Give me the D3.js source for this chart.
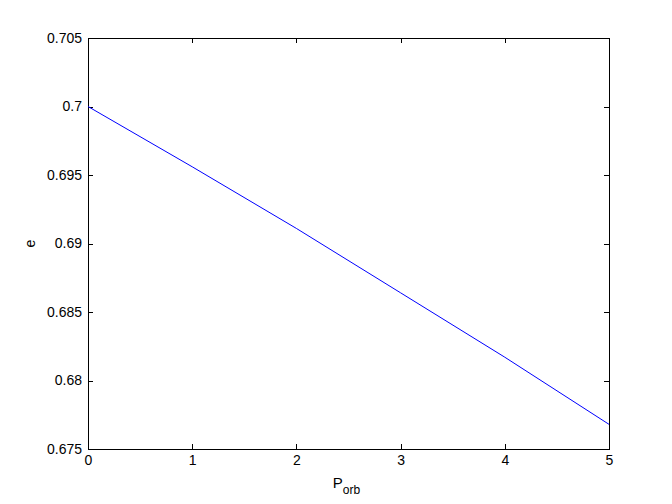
<!DOCTYPE html>
<html>
<head>
<meta charset="utf-8">
<script src="https://cdn.jsdelivr.net/npm/d3@7"></script>
<style>
  body { margin: 0; background: #fff; }
  .chart { width: 672px; height: 504px; }
  text { font-family: "Liberation Sans", Arial, sans-serif; }
</style>
</head>
<body>
<div class="chart"></div>
<script>
// data
let porb = [0, 1, 2, 3, 4, 5];
let ecc = [0.7, 0.6956, 0.6911, 0.6864, 0.6817, 0.6768];
let xTicks = [0, 1, 2, 3, 4, 5];
let yTicks = [0.675, 0.68, 0.685, 0.69, 0.695, 0.7, 0.705];

let chart = {};

chart.margin = { top: 38, right: 63, bottom: 55, left: 88 };
chart.width = 672 - chart.margin.left - chart.margin.right;
chart.height = 504 - chart.margin.top - chart.margin.bottom;

chart.x = d3.scaleLinear().domain([0, 5]).range([0, chart.width]);
chart.y = d3.scaleLinear().domain([0.675, 0.705]).range([chart.height, 0]);

chart.svg = d3.select(".chart").append("svg")
    .attr("width", 672)
    .attr("height", 504);

chart.plot = chart.svg.append("g")
    .attr("transform", `translate(${chart.margin.left},${chart.margin.top})`);

//ticks point inward, MATLAB style, on all four sides
let fmtY = d => String(+d.toFixed(3));

let axisStyle = g => {
    g.select(".domain").remove();
    g.selectAll("line").attr("stroke", "#000").attr("shape-rendering", "crispEdges");
    g.selectAll("text").attr("font-size", 14).attr("fill", "#000");
};

chart.plot.append("g")
    .attr("transform", `translate(0,${chart.height})`)
    .call(d3.axisBottom(chart.x).tickValues(xTicks).tickSizeInner(-5).tickPadding(6).tickFormat(d3.format("d")))
    .call(axisStyle);

chart.plot.append("g")
    .call(d3.axisTop(chart.x).tickValues(xTicks).tickSizeInner(-5).tickFormat(""))
    .call(axisStyle);

chart.plot.append("g")
    .call(d3.axisLeft(chart.y).tickValues(yTicks).tickSizeInner(-5).tickPadding(6).tickFormat(fmtY))
    .call(axisStyle);

chart.plot.append("g")
    .attr("transform", `translate(${chart.width},0)`)
    .call(d3.axisRight(chart.y).tickValues(yTicks).tickSizeInner(-5).tickFormat(""))
    .call(axisStyle);

//the box
chart.plot.append("rect")
    .attr("x", 0).attr("y", 0)
    .attr("width", chart.width).attr("height", chart.height)
    .attr("fill", "none").attr("stroke", "#000")
    .attr("shape-rendering", "crispEdges");

let line = d3.line()
    .x((d, i) => chart.x(porb[i]))
    .y(d => chart.y(d));

chart.plot.append("path")
    .datum(ecc)
    .attr("d", line)
    .attr("fill", "none")
    .attr("stroke", "#0000ff")
    .attr("stroke-width", 1);

//labels
let xl = chart.svg.append("text")
    .attr("x", chart.margin.left + chart.width / 2 - 2)
    .attr("y", 488)
    .attr("text-anchor", "middle")
    .attr("font-size", 15);
xl.append("tspan").text("P");
xl.append("tspan").attr("dy", 6).attr("font-size", 12).text("orb");

chart.svg.append("text")
    .attr("transform", `translate(35,${chart.margin.top + chart.height / 2}) rotate(-90)`)
    .attr("text-anchor", "middle")
    .attr("font-size", 14)
    .text("e");
</script>
</body>
</html>
